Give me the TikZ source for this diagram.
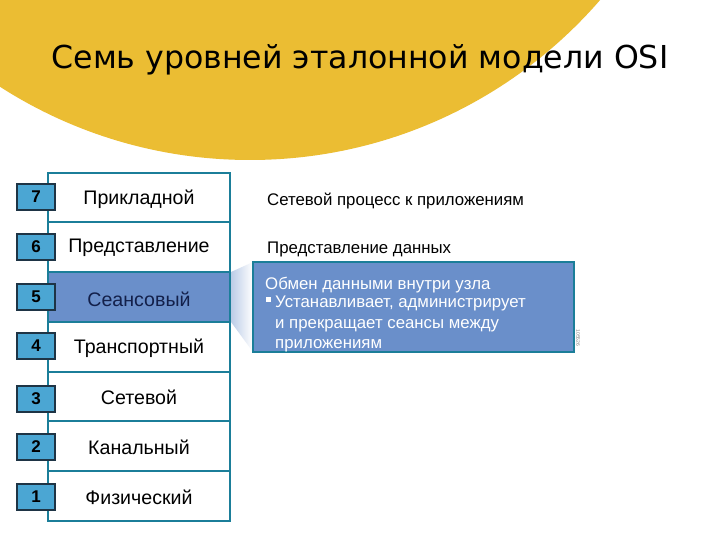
\documentclass[tikz,border=0pt]{standalone}
\usepackage{fontspec}
\setmainfont{Liberation Sans}
\newfontfamily\titlefont{DejaVu Sans}
\definecolor{yel}{HTML}{EBBD33}
\definecolor{teal}{HTML}{1B7E99}
\definecolor{numfill}{HTML}{4BA6D3}
\definecolor{numline}{HTML}{1E3445}
\definecolor{hifill}{HTML}{6A8FCA}
\definecolor{navy}{HTML}{13204A}
\tikzset{
  numbox/.style={draw=numline, line width=1.2pt, fill=numfill, minimum width=38pt, minimum height=26pt, inner sep=0pt, font=\bfseries\fontsize{17}{17}\selectfont},
  rowlabel/.style={font=\fontsize{19.6}{19.6}\selectfont, inner sep=0pt},
  sidetext/.style={font=\fontsize{16.8}{16.8}\selectfont, inner sep=0pt, anchor=base west},
  calltext/.style={font=\fontsize{16.8}{16.8}\selectfont, text=white, inner sep=0pt, anchor=base west},
  frame/.style={draw=teal, line width=2pt}
}
\begin{document}
\begin{tikzpicture}[x=1pt,y=-1pt]
\useasboundingbox (0,0) rectangle (720,540);
\fill[white] (0,0) rectangle (720,540);
\begin{scope}
\clip (0,0) rectangle (720,540);
\fill[yel] (250,-303) circle (463);
\end{scope}
\node[font=\titlefont\fontsize{31.6}{31.6}\selectfont, anchor=base, inner sep=0pt] (title) at (360,69) {Семь уровней эталонной модели OSI};

% highlighted row
\fill[hifill] (48,272) rectangle (230,322);
% wedge
\shade[left color=hifill!45!white, right color=white] (231,272) -- (253,262) -- (253,352) -- (231,322) -- cycle;
% frame
\draw[frame] (48,173) rectangle (230,521);
\foreach \yy in {222,272,322,372,421,471} \draw[frame] (48,\yy) -- (230,\yy);

% number boxes and labels
\foreach \n/\yc/\ly/\lab/\col in {7/197/199/Прикладной/black, 6/247/248/Представление/black, 5/297/299/Сеансовый/navy, 4/346/348/Транспортный/black, 3/399/397/Сетевой/black, 2/447/447/Канальный/black, 1/497/497/Физический/black} {
  \node[numbox] (n\n) at (36,\yc) {\n};
  \node[rowlabel, text=\col] (r\n) at (139,\ly) {\lab};
}

% side texts
\node[sidetext] (t7) at (267,206) {Сетевой процесс к приложениям};
\node[sidetext] (t6) at (267,253) {Представление данных};

% callout
\draw[draw=teal, line width=2pt, fill=hifill] (253,262) rectangle (574,352);
\node[calltext] (c1) at (265,289) {Обмен данными внутри узла};
\fill[white] (266,297) rectangle (271,302);
\node[calltext] (c2) at (275,307) {Устанавливает, администрирует};
\node[calltext] (c3) at (275,328) {и прекращает сеансы между};
\node[calltext] (c4) at (275,348) {приложениям};
\node[font=\fontsize{5}{5}\selectfont, text=gray, rotate=-90, inner sep=0pt] (id) at (578,338) {105526};
\end{tikzpicture}
\end{document}
